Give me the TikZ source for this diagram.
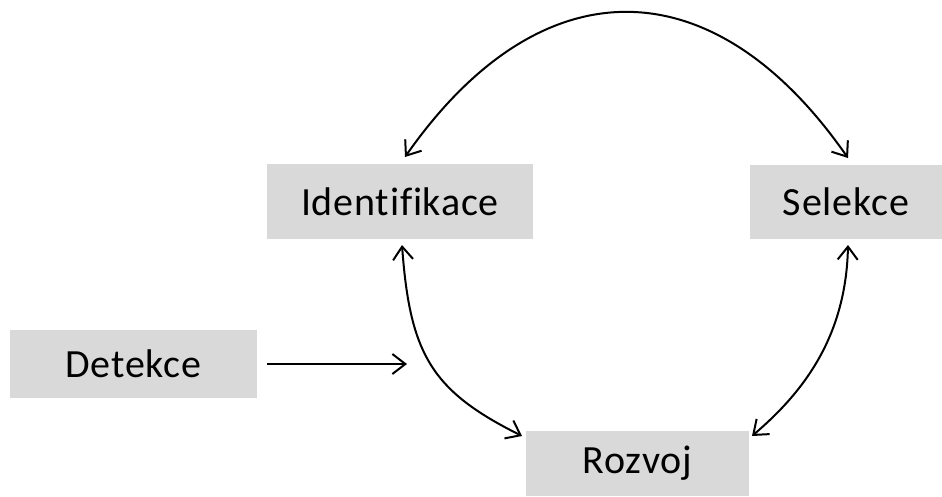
\documentclass[tikz,border=0pt]{standalone}
\usepackage{fontspec}
\setmainfont[Ligatures=NoCommon,LetterSpace=2]{Carlito}
\usetikzlibrary{arrows.meta}
\definecolor{boxgray}{HTML}{D9D9D9}
\tikzset{
  box/.style={fill=boxgray, draw=none, inner sep=0pt, outer sep=0pt,
    font=\fontsize{40}{48}\selectfont, text=black},
  conn/.style={line width=2pt, {Straight Barb[length=13pt,width=20pt]}-{Straight Barb[length=13pt,width=20pt]}},
  oneway/.style={line width=2pt, -{Straight Barb[length=13pt,width=20pt]}}
}
\begin{document}
\begin{tikzpicture}[x=1pt,y=-1pt]
\useasboundingbox[fill=white] (0,0) rectangle (942,496);
\node[box, minimum width=266pt, minimum height=75pt] (I) at (400,201.5) {Identifikace};
\node[box, minimum width=192pt, minimum height=74pt] (S) at (846,202) {Selekce};
\node[box, minimum width=247pt, minimum height=68pt] (D) at (133.5,364) {Detekce};
\node[box, minimum width=223pt, minimum height=65pt] (R) at (637.5,463.5) {Rozvoj};
\coordinate (dend) at (407,364);
\draw[conn] ([xshift=5pt,yshift=7pt]I.north) .. controls (540,-36) and (713,-36) .. ([xshift=2pt,yshift=7pt]S.north);
\draw[conn] ([xshift=2pt,yshift=-6pt]I.south) .. controls (410,355) and (432,391) .. ([xshift=-4pt,yshift=-5pt]R.north west);
\draw[conn] ([xshift=2pt,yshift=-6pt]S.south) .. controls (846,340) and (800,395) .. ([xshift=3pt,yshift=-5pt]R.north east);
\draw[oneway] ([xshift=10pt]D.east) -- (dend);
\end{tikzpicture}
\end{document}
